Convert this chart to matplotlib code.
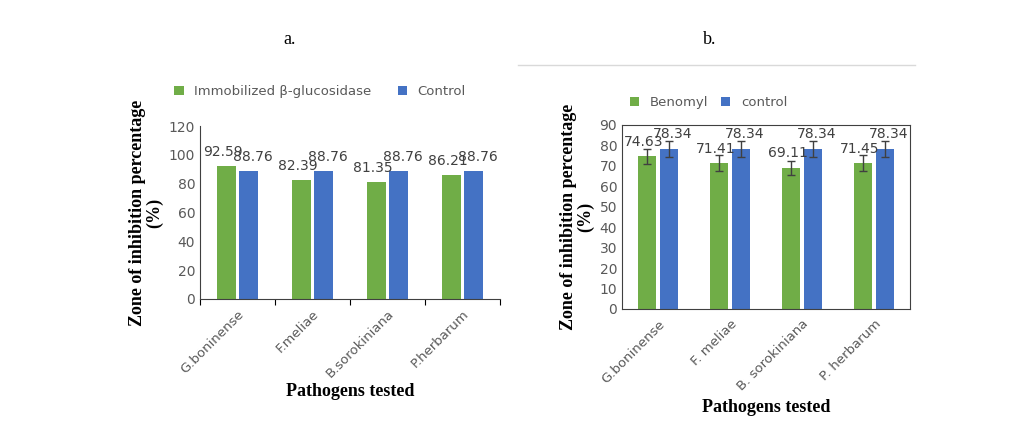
import matplotlib.pyplot as plt
import numpy as np

pathogens_a = ['G.boninense', 'F.meliae', 'B.sorokiniana', 'P.herbarum']
immob = [92.59, 82.39, 81.35, 86.21]
control_a = [88.76, 88.76, 88.76, 88.76]

pathogens_b = ['G.boninense', 'F. meliae', 'B. sorokiniana', 'P. herbarum']
benomyl = [74.63, 71.41, 69.11, 71.45]
control_b = [78.34, 78.34, 78.34, 78.34]
err_benomyl = [3.5, 3.8, 3.5, 3.8]
err_control = [3.8, 3.8, 3.8, 3.8]

green = '#70ad47'
blue = '#4472c4'
tick_c = '#595959'

fig = plt.figure(figsize=(10.21, 4.41), dpi=100)
fig.text(290/1021, 1-40/441, 'a.', family='Liberation Serif', fontsize=13, ha='center', va='center')
fig.text(710/1021, 1-40/441, 'b.', family='Liberation Serif', fontsize=13, ha='center', va='center')
fig.add_artist(plt.Line2D([518/1021, 915/1021], [1-65/441]*2, color='#d9d9d9', lw=1))

def panel(rect, cats, s1, s2, names, ymax, step, box, e1=None, e2=None):
    ax = fig.add_axes(rect)
    x = np.arange(len(cats))
    w = 0.25
    b1 = ax.bar(x - 0.15, s1, w, color=green, label=names[0], yerr=e1, capsize=3,
                error_kw=dict(ecolor='#404040', lw=1))
    b2 = ax.bar(x + 0.15, s2, w, color=blue, label=names[1], yerr=e2, capsize=3,
                error_kw=dict(ecolor='#404040', lw=1))
    for bars, vals, dx in ((b1, s1, -0.05), (b2, s2, 0.05)):
        for r, v in zip(bars, vals):
            ax.text(r.get_x() + r.get_width()/2 + dx, v + ymax*0.04, f'{v:.2f}',
                    ha='center', va='bottom', fontsize=10, color='#404040')
    ax.set_ylim(0, ymax)
    ax.set_yticks(np.arange(0, ymax + 1, step))
    ax.set_xlim(-0.5, len(cats) - 0.5)
    ax.set_xticks(np.arange(-0.5, len(cats)), minor=False)
    ax.set_xticklabels([])
    ax.set_xticks(x, minor=True)
    ax.set_xticklabels(cats, minor=True, rotation=45, ha='right', rotation_mode='anchor',
                       fontsize=9.5, color=tick_c)
    ax.tick_params(axis='x', which='minor', length=0, pad=6)
    ax.tick_params(axis='x', which='major', length=4, direction='out')
    ax.tick_params(axis='y', labelsize=10, colors=tick_c, length=0)
    for s in ax.spines.values():
        s.set_color('#404040')
    if not box:
        ax.spines['top'].set_visible(False)
        ax.spines['right'].set_visible(False)
    ax.set_ylabel('Zone of inhibition percentage\n(%)', family='Liberation Serif',
                  fontweight='bold', fontsize=13, linespacing=1.0)
    ax.set_xlabel('Pathogens tested', family='Liberation Serif', fontweight='bold', fontsize=13)
    return ax

ax1 = panel([200/1021, 1-299/441, 300/1021, 173/441], pathogens_a, immob, control_a,
            ['Immobilized β-glucosidase', 'Control'], 120, 20, False)
ax1.legend(loc='center', bbox_to_anchor=(0.4, 1.2), ncol=2, frameon=False, fontsize=9.5,
           handlelength=0.7, handleheight=0.7, columnspacing=2, labelcolor=tick_c)
ax1.xaxis.labelpad = 2

ax2 = panel([622/1021, 1-309/441, 288/1021, 184/441], pathogens_b, benomyl, control_b,
            ['Benomyl', 'control'], 90, 10, True, err_benomyl, err_control)
ax2.legend(loc='center', bbox_to_anchor=(0.3, 1.12), ncol=2, frameon=False, fontsize=9.5,
           handlelength=0.7, handleheight=0.7, columnspacing=1, labelcolor=tick_c)
ax2.tick_params(axis='x', which='major', length=0)

fig.savefig('out.png', dpi=100)
